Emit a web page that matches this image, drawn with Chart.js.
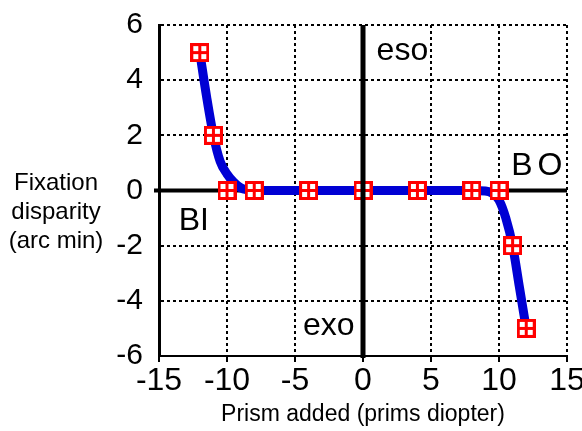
<!DOCTYPE html>
<html>
<head>
<meta charset="utf-8">
<script src="https://cdn.jsdelivr.net/npm/chart.js@4.4.1/dist/chart.umd.min.js"></script>
<style>
    html, body { margin: 0; padding: 0; background: #fff; }
    canvas { display: block; }
</style>
</head>
<body>
<canvas id="chart" width="582" height="431"></canvas>
<script>
// measured points (red markers)
const prismAdded = [-12, -11, -10, -8, -4, 0, 4, 8, 10, 11, 12];
const disparity = [5, 2, 0, 0, 0, 0, 0, 0, 0, -2, -5];
// fitted curve (blue line)
const curvePrism = [-12, -11.5, -11, -10.5, -10, -9.5, -9, -8.5, -8, 0, 8, 9, 9.5, 10, 10.5, 11, 11.5, 12];
const curveDisparity = [5, 3.4, 2, 1.05, 0.6, 0.3, 0.1, 0.02, 0, 0, 0, -0.02, -0.1, -0.35, -1.0, -2, -3.5, -5];
const xTicks = [-15, -10, -5, 0, 5, 10, 15];
const yTicks = [-6, -4, -2, 0, 2, 4, 6];
const xTitle = 'Prism added (prims diopter)';
const yTitleLines = ['Fixation', 'disparity', '(arc min)'];
const regionNames = ['eso', 'exo', 'BI', 'BO'];

const FONT = "'Liberation Sans', Arial, sans-serif";
Chart.defaults.font.family = FONT;
Chart.defaults.color = '#000';

// red square with a cross, used as the point style
function makeMarker() {
    const c = document.createElement('canvas');
    c.width = 19;
    c.height = 19;
    const g = c.getContext('2d');
    g.fillStyle = '#fff';
    g.fillRect(0, 0, 19, 19);
    g.fillStyle = '#ff0000';
    g.fillRect(0, 0, 19, 3);
    g.fillRect(0, 16, 19, 3);
    g.fillRect(0, 0, 3, 19);
    g.fillRect(16, 0, 3, 19);
    g.fillRect(8, 0, 3, 19);
    g.fillRect(0, 8, 19, 3);
    return c;
}

const zeroLines = {
    id: 'zeroLines',
    beforeDatasetsDraw(chart) {
        const { ctx, chartArea, scales } = chart;
        const y0 = scales.y.getPixelForValue(0);
        ctx.save();
        ctx.strokeStyle = '#000';
        ctx.lineWidth = 4;
        ctx.beginPath();
        ctx.moveTo(chartArea.left - 5, y0);
        ctx.lineTo(chartArea.right, y0);
        ctx.stroke();
        ctx.restore();
    },
    afterDatasetsDraw(chart) {
        const { ctx, chartArea, scales } = chart;
        const x0 = scales.x.getPixelForValue(0);
        ctx.save();
        ctx.strokeStyle = '#000';
        ctx.lineWidth = 5;
        ctx.beginPath();
        ctx.moveTo(x0, chartArea.top);
        ctx.lineTo(x0, chartArea.bottom + 2);
        ctx.stroke();
        ctx.restore();
    }
};

const labelsPlugin = {
    id: 'labelsPlugin',
    afterDraw(chart) {
        const { ctx, scales } = chart;
        const x = scales.x, y = scales.y;
        ctx.save();
        ctx.fillStyle = '#000';

        // y axis title, horizontal, three lines
        ctx.font = '24px ' + FONT;
        ctx.textAlign = 'center';
        ctx.textBaseline = 'alphabetic';
        yTitleLines.forEach((line, i) => {
            ctx.fillText(line, 56, 190 + i * 29);
        });

        // region labels
        ctx.font = '32px ' + FONT;
        ctx.textAlign = 'left';
        const spots = [[1.0, 4.73], [-4.42, -5.24], [-13.55, -1.43], [10.9, 0.56]];
        regionNames.forEach((name, i) => {
            ctx.letterSpacing = name === 'BO' ? '5px' : '0px';
            ctx.fillText(name, x.getPixelForValue(spots[i][0]), y.getPixelForValue(spots[i][1]));
        });
        ctx.restore();
    }
};

new Chart(document.getElementById('chart'), {
    type: 'scatter',
    data: {
        datasets: [{
            data: prismAdded.map((p, i) => ({ x: p, y: disparity[i] })),
            showLine: false,
            pointStyle: makeMarker(),
            pointRadius: 9,
            pointHoverRadius: 9,
            order: 0
        }, {
            data: curvePrism.map((p, i) => ({ x: p, y: curveDisparity[i] })),
            showLine: true,
            borderColor: '#0000d4',
            borderWidth: 9,
            cubicInterpolationMode: 'monotone',
            pointRadius: 0,
            pointHoverRadius: 0,
            order: 1
        }]
    },
    options: {
        responsive: false,
        animation: false,
        events: [],
        layout: { padding: { top: 25, right: 15, left: 0, bottom: 0 } },
        plugins: {
            legend: { display: false },
            tooltip: { enabled: false }
        },
        scales: {
            x: {
                type: 'linear',
                min: xTicks[0],
                max: xTicks[xTicks.length - 1],
                afterBuildTicks: s => { s.ticks = xTicks.map(v => ({ value: v })); },
                afterFit: s => { s.height = 75; s.paddingLeft = 0; s.paddingRight = 0; },
                ticks: { font: { size: 32 }, padding: 0, maxRotation: 0, autoSkip: false },
                grid: {
                    color: '#000',
                    lineWidth: 2,
                    borderDash: [3, 3],
                    tickLength: 6,
                    tickColor: '#000',
                    tickWidth: 2,
                    tickBorderDash: []
                },
                border: { display: true, color: '#000', width: 2, dash: [3, 3] },
                title: {
                    display: true,
                    text: xTitle,
                    font: { size: 23 },
                    padding: { top: 0, bottom: 3 }
                }
            },
            y: {
                type: 'linear',
                min: yTicks[0],
                max: yTicks[yTicks.length - 1],
                afterBuildTicks: s => { s.ticks = yTicks.map(v => ({ value: v })); },
                afterFit: s => { s.width = 159; s.paddingTop = 0; s.paddingBottom = 0; },
                ticks: { font: { size: 30 }, padding: 16 },
                grid: {
                    color: '#000',
                    lineWidth: 2,
                    borderDash: [3, 3],
                    drawTicks: false
                },
                border: { display: true, color: '#000', width: 3, dash: [3, 3] }
            }
        }
    },
    plugins: [zeroLines, labelsPlugin]
});
</script>
</body>
</html>
